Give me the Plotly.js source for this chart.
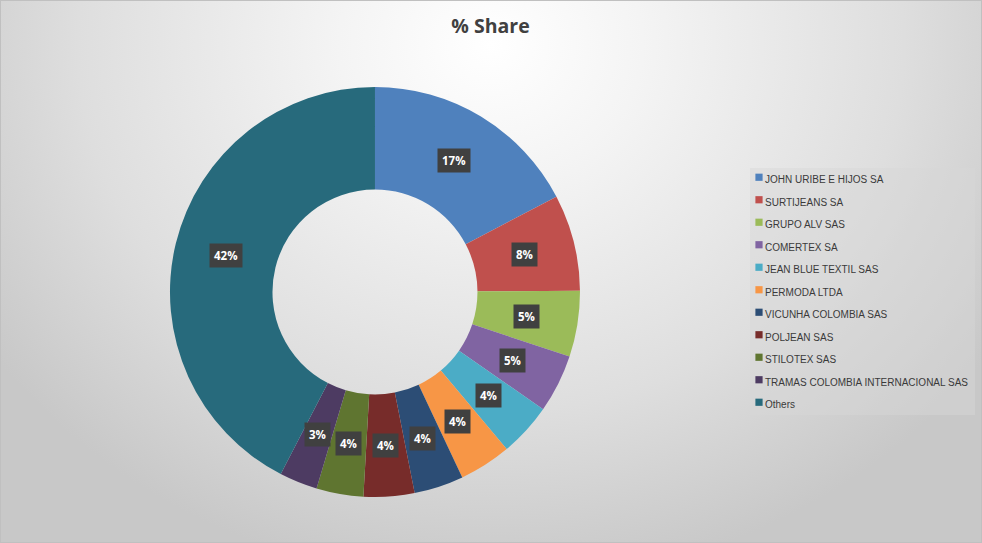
<!DOCTYPE html>
<html>
<head>
<meta charset="utf-8">
<script src="https://cdn.plot.ly/plotly-3.0.1.min.js"></script>
<style>
  html, body { margin: 0; padding: 0; }
  #wrap {
    width: 982px; height: 543px; box-sizing: border-box;
    border: 1px solid #c0c0c0;
    background: radial-gradient(ellipse 62% 100% at 50% 8%, #ffffff 0%, #f4f4f4 25%, #dedede 68%, #c8c8c8 100%);
    position: relative; overflow: hidden;
  }
  #chart { position: absolute; left: -1px; top: -1px; width: 982px; height: 543px; }
  .legendpoints path { transform: translate(34px, 0px) scale(0.6); }
</style>
</head>
<body>
<div id="wrap"><div id="chart"></div></div>
<script>
const categories = [
  "JOHN URIBE E HIJOS SA", "SURTIJEANS SA", "GRUPO ALV SAS", "COMERTEX SA",
  "JEAN BLUE TEXTIL SAS", "PERMODA LTDA", "VICUNHA COLOMBIA SAS", "POLJEAN SAS",
  "STILOTEX SAS", "TRAMAS COLOMBIA INTERNACIONAL SAS", "Others"
];
const shares = [17.3, 7.6, 5.2, 4.6, 4.2, 4.1, 3.9, 4.0, 3.7, 3.0, 42.4];
const colors = ["#4F81BD", "#C0504D", "#9BBB59", "#8064A2", "#4BACC6", "#F79646",
                "#2C4D75", "#772C2A", "#5F7530", "#4D3B62", "#276A7C"];

const W = 982, H = 543;
const domX = [0.1731, 0.5906];
const domY = [0.0847, 0.8398];
const holeFrac = 0.5;

// label annotations computed from data
const total = shares.reduce((a, b) => a + b, 0);
const cxP = (domX[0] + domX[1]) / 2, cyP = (domY[0] + domY[1]) / 2;
const Rpx = Math.min((domX[1] - domX[0]) * W, (domY[1] - domY[0]) * H) / 2;
const rLab = Rpx * (1 + holeFrac) / 2;
let cum = 0;
const annotations = shares.map((v) => {
  const mid = (cum + v / 2) / total;
  cum += v;
  const th = 2 * Math.PI * mid;
  return {
    xref: "paper", yref: "paper",
    x: cxP + rLab * Math.sin(th) / W,
    y: cyP + rLab * Math.cos(th) / H,
    xanchor: "center", yanchor: "middle",
    text: "<b>" + Math.round(v / total * 100) + "%</b>",
    showarrow: false,
    bgcolor: "#404040",
    borderpad: 4,
    font: { family: "Open Sans, sans-serif", size: 11.5, color: "#ffffff" }
  };
});

const trace = {
  type: "pie",
  labels: categories.map(c => '<span style="font-size:10px">' + c + '</span>'),
  values: shares,
  hole: holeFrac,
  sort: false,
  direction: "clockwise",
  rotation: 0,
  textinfo: "none",
  marker: { colors: colors, line: { width: 0 } },
  domain: { x: domX, y: domY },
  hoverinfo: "none"
};

const layout = {
  width: W, height: H,
  margin: { l: 0, r: 0, t: 0, b: 0 },
  paper_bgcolor: "rgba(0,0,0,0)",
  plot_bgcolor: "rgba(0,0,0,0)",
  title: {
    text: "<b>% Share</b>",
    font: { family: "Open Sans, sans-serif", size: 19.5, color: "#404040" },
    x: 0.4995, xanchor: "center", y: 0.951, yanchor: "middle"
  },
  showlegend: true,
  legend: {
    x: 725 / W, xanchor: "left",
    y: 1 - 161 / H, yanchor: "top",
    bgcolor: "rgba(0,0,0,0)",
    font: { family: "Liberation Sans, Arial, sans-serif", size: 15, color: "#3a3a3a" },
    traceorder: "normal"
  },
  shapes: [{
    type: "rect", xref: "paper", yref: "paper", layer: "below",
    x0: 750 / W, x1: 975 / W, y0: 1 - 415 / H, y1: 1 - 168 / H,
    fillcolor: "rgba(215,215,215,0.45)", line: { width: 0 }
  }],
  annotations: annotations
};

Plotly.newPlot("chart", [trace], layout, { displayModeBar: false, staticPlot: true });
</script>
</body>
</html>
